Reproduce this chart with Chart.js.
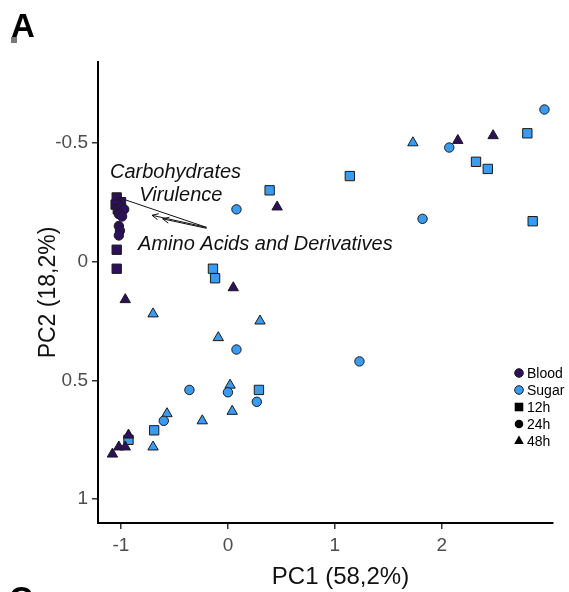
<!DOCTYPE html>
<html>
<head>
<meta charset="utf-8">
<title>PCA scores</title>
<script src="https://cdn.jsdelivr.net/npm/chart.js@4/dist/chart.umd.min.js"></script>
<style>
  html, body { margin: 0; padding: 0; background: #fff; }
  #wrap { position: relative; width: 569px; height: 592px; }
</style>
</head>
<body>
<div id="wrap"><canvas id="pcaChart" width="569" height="592"></canvas></div>
<script>
// === PCA SCORE PLOT (panel A) ===
// PC1 vs PC2, colour = medium (Blood / Sugar), shape = time (12h / 24h / 48h)

var xTicks = [-1, 0, 1, 2];
var yTicks = [-0.5, 0, 0.5, 1];

// [PC1, PC2] pairs
var blood12h = [[-1.04, -0.27], [-1.00, -0.25], [-1.05, -0.24], [-1.03, -0.22], [-1.04, -0.05], [-1.04, 0.03]];
var blood24h = [[-1.00, -0.23], [-0.97, -0.22], [-1.02, -0.20], [-0.99, -0.19], [-1.02, -0.15], [-1.01, -0.13], [-1.02, -0.11]];
var blood48h = [[0.46, -0.23], [-0.96, 0.16], [0.05, 0.11], [2.15, -0.51], [2.48, -0.53],
                [-1.08, 0.81], [-1.02, 0.78], [-0.96, 0.78], [-0.93, 0.73]];

var sugar12h = [[2.80, -0.54], [2.32, -0.42], [2.43, -0.39], [1.14, -0.36], [0.39, -0.30], [2.85, -0.17],
                [-0.14, 0.03], [-0.12, 0.07], [0.29, 0.54], [-0.69, 0.71], [-0.93, 0.75]];
var sugar24h = [[2.96, -0.64], [2.07, -0.48], [1.82, -0.18], [0.08, -0.22], [0.08, 0.37],
                [-0.36, 0.54], [0.00, 0.55], [0.27, 0.59], [1.23, 0.42], [-0.60, 0.67]];
var sugar48h = [[1.73, -0.50], [-0.70, 0.22], [0.30, 0.25], [-0.09, 0.32], [0.02, 0.52],
                [0.04, 0.63], [-0.57, 0.64], [-0.24, 0.67], [-0.70, 0.78]];

// loading vectors (start, end) and their labels
var loadingLines = [[[-0.96, -0.26], [-0.20, -0.144]]];
var loadingArrows = [[[-0.20, -0.144], [-0.71, -0.195]], [[-0.20, -0.140], [-0.61, -0.180]]];
var loadingLabels = ['Carbohydrates', 'Virulence', 'Amino Acids and Derivatives'];
var loadingLabelPos = [[-0.49, -0.375], [-0.44, -0.28], [0.35, -0.072]];

var legendLabels = ['Blood', 'Sugar', '12h', '24h', '48h'];
var xTitle = 'PC1 (58,2%)';
var yTitle = 'PC2 (18,2%)';

var BLOOD = '#2e0f5c';
var SUGAR = '#3a9bf2';
var EDGE = '#1a1a1a';
var FONT = "'Liberation Sans', Arial, sans-serif";

Chart.defaults.font.family = FONT;

function toXY(arr) {
  return arr.map(function(p) { return { x: p[0], y: p[1] }; });
}

function markerSet(label, arr, color, style, radius) {
  return {
    label: label,
    data: toXY(arr),
    pointStyle: style,
    pointRadius: radius,
    pointHoverRadius: radius,
    pointBackgroundColor: color,
    pointBorderColor: EDGE,
    pointBorderWidth: 1
  };
}

// first dataset is painted last (on top)
var datasets = [
  markerSet('Blood 48h', blood48h, BLOOD, 'triangle', 6),
  markerSet('Blood 24h', blood24h, BLOOD, 'circle', 4.7),
  markerSet('Blood 12h', blood12h, BLOOD, 'rect', 6.6),
  markerSet('Sugar 24h', sugar24h, SUGAR, 'circle', 4.7),
  markerSet('Sugar 12h', sugar12h, SUGAR, 'rect', 6.6),
  markerSet('Sugar 48h', sugar48h, SUGAR, 'triangle', 6)
];

// Draw a legend marker in canvas space
function drawMarker(ctx, style, x, y, fill) {
  ctx.save();
  ctx.fillStyle = fill;
  ctx.strokeStyle = EDGE;
  ctx.lineWidth = 1;
  ctx.beginPath();
  if (style === 'circle') {
    ctx.arc(x, y, 4.3, 0, Math.PI * 2);
  } else if (style === 'rect') {
    ctx.rect(x - 4.3, y - 4.3, 8.6, 8.6);
  } else {
    ctx.moveTo(x, y - 5.5);
    ctx.lineTo(x + 4.8, y + 3);
    ctx.lineTo(x - 4.8, y + 3);
    ctx.closePath();
  }
  ctx.fill();
  if (fill !== '#000') ctx.stroke();
  ctx.restore();
}

var decorPlugin = {
  id: 'panelDecor',
  afterDatasetsDraw: function(chart) {
    var ctx = chart.ctx;
    var xs = chart.scales.x, ys = chart.scales.y;
    var area = chart.chartArea;
    function px(p) { return [xs.getPixelForValue(p[0]), ys.getPixelForValue(p[1])]; }

    ctx.save();
    ctx.strokeStyle = '#111';
    ctx.lineWidth = 1;

    loadingLines.forEach(function(seg) {
      var a = px(seg[0]), b = px(seg[1]);
      ctx.beginPath();
      ctx.moveTo(a[0], a[1]);
      ctx.lineTo(b[0], b[1]);
      ctx.stroke();
    });

    // arrows with open heads at the end point
    loadingArrows.forEach(function(seg) {
      var a = px(seg[0]), b = px(seg[1]);
      var ang = Math.atan2(b[1] - a[1], b[0] - a[0]);
      ctx.beginPath();
      ctx.moveTo(a[0], a[1]);
      ctx.lineTo(b[0], b[1]);
      ctx.moveTo(b[0] - 7 * Math.cos(ang - 0.45), b[1] - 7 * Math.sin(ang - 0.45));
      ctx.lineTo(b[0], b[1]);
      ctx.lineTo(b[0] - 7 * Math.cos(ang + 0.45), b[1] - 7 * Math.sin(ang + 0.45));
      ctx.stroke();
    });

    ctx.fillStyle = '#111';
    ctx.font = 'italic 20px ' + FONT;
    ctx.textAlign = 'center';
    ctx.textBaseline = 'middle';
    loadingLabels.forEach(function(txt, i) {
      var p = px(loadingLabelPos[i]);
      ctx.fillText(txt, p[0], p[1]);
    });

    // x axis title (sits a little right of the panel centre in the original)
    ctx.font = '24px ' + FONT;
    ctx.fillText(xTitle, (area.left + area.right) / 2 + 15, 577);

    // legend (colour then shape)
    var lx = area.right - 34, ly = area.top + 311, rowH = 17;
    var styles = ['circle', 'circle', 'rect', 'circle', 'triangle'];
    var fills = [BLOOD, SUGAR, '#000', '#000', '#000'];
    ctx.font = '14px ' + FONT;
    ctx.textAlign = 'left';
    legendLabels.forEach(function(lbl, i) {
      var y = ly + i * rowH;
      drawMarker(ctx, styles[i], lx, y, fills[i]);
      ctx.fillStyle = '#000';
      ctx.fillText(lbl, lx + 8, y + 1);
    });

    // panel letters
    ctx.font = 'bold 33px ' + FONT;
    ctx.textBaseline = 'alphabetic';
    ctx.fillText('A', 11, 37);
    ctx.fillText('C', 9, 610);
    ctx.fillStyle = '#777';
    ctx.fillRect(11, 37, 6, 6);
    ctx.restore();
  }
};

function fixTicks(list) {
  return function(scale) {
    scale.ticks = list.map(function(v) { return { value: v }; });
  };
}

var axisGrid = { drawOnChartArea: false, drawTicks: true, tickLength: 6, color: '#333', lineWidth: 1.5 };
var axisBorder = { display: true, color: '#000', width: 2 };

new Chart(document.getElementById('pcaChart'), {
  type: 'scatter',
  data: { datasets: datasets },
  options: {
    responsive: false,
    animation: false,
    devicePixelRatio: 1,
    layout: { padding: { top: 62, right: 16, left: 0, bottom: 0 } },
    plugins: { legend: { display: false }, tooltip: { enabled: false } },
    scales: {
      x: {
        type: 'linear',
        min: -1.215,
        max: 3.04,
        afterBuildTicks: fixTicks(xTicks),
        afterFit: function(scale) { scale.height = 69; },
        grid: axisGrid,
        border: axisBorder,
        ticks: {
          autoSkip: false, maxRotation: 0, padding: 5,
          color: '#4d4d4d', font: { size: 19 },
          callback: function(v) { return String(v); }
        }
      },
      y: {
        type: 'linear',
        reverse: true,
        min: -0.84,
        max: 1.10,
        afterBuildTicks: fixTicks(yTicks),
        afterFit: function(scale) { scale.width = 98; },
        grid: axisGrid,
        border: axisBorder,
        ticks: {
          autoSkip: false, padding: 4,
          color: '#4d4d4d', font: { size: 19 },
          callback: function(v) { return String(v); }
        },
        title: { display: true, text: yTitle, color: '#111', font: { size: 23 }, padding: { top: 35, bottom: 0 } }
      }
    }
  },
  plugins: [decorPlugin]
});
</script>
</body>
</html>
